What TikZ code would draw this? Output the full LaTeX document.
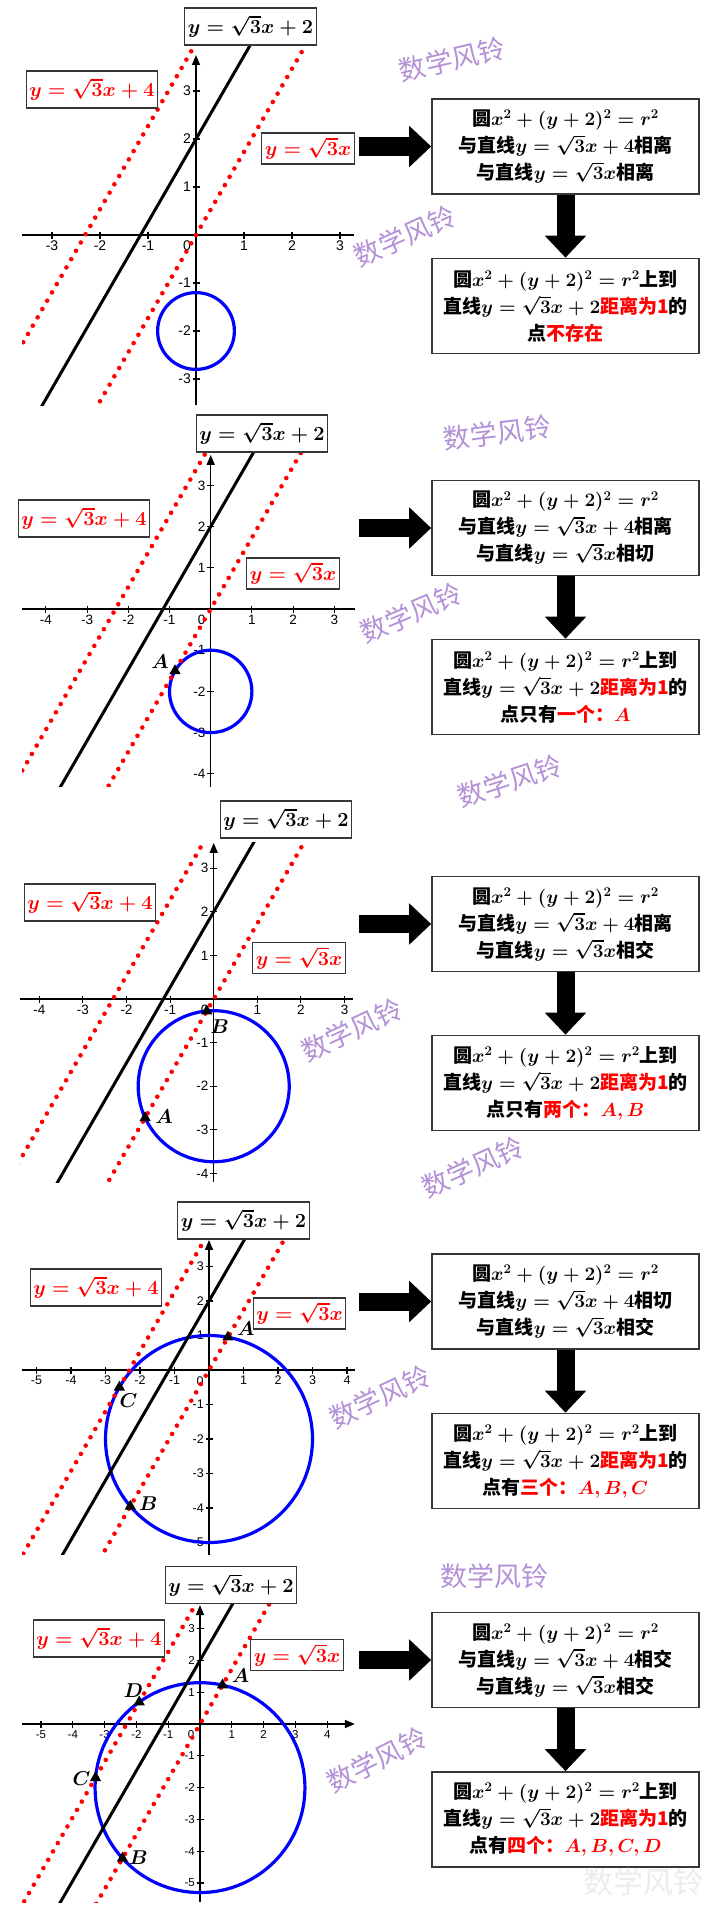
\RequirePackage{fix-cm}
\documentclass[tikz,border=0pt]{standalone}
\usepackage{amsmath}
\usepackage{bm}
\usepackage[no-math]{fontspec}
\newfontfamily\cjk{Noto Sans CJK SC}
\newfontfamily\tickfont{Liberation Sans}
\usetikzlibrary{arrows.meta,shapes.geometric}
\definecolor{wm}{RGB}{180,145,215}
\definecolor{bx}{RGB}{55,55,55}
\definecolor{wmfaint}{RGB}{236,236,236}

\newcommand\myceq{$\bm{x^2+(y+2)^2=r^2}$}
\newcommand\mylfour{$\bm{y=\sqrt{3}x+4}$}
\newcommand\myltwo{$\bm{y=\sqrt{3}x+2}$}
\newcommand\mylzero{$\bm{y=\sqrt{3}x}$}
\newcommand\myred[1]{\textcolor{red}{#1}}

% axes: xmin xmax ymin ytip xt1 xt2 yt1 yt2 fontsize
\newcommand\myaxes[9]{%
  \draw[axisline,xax] (#1,0) -- (#2,0);
  \draw[axisline,-{Triangle[length=10pt,width=8pt]}] (0,#3) -- (0,#4);
  \foreach \i in {#5,...,#6}{%
    \ifnum\i=0\relax\else
      \draw[tickline] ([yshift=-3.5pt]\i,0) -- ([yshift=3.5pt]\i,0);
      \node[tl,font=\tickfont\fontsize{#9}{#9}\selectfont,anchor=north] at ([yshift=-6pt]\i,0) {\i};
    \fi}%
  \foreach \j in {#7,...,#8}{%
    \ifnum\j=0\relax\else
      \draw[tickline] ([xshift=-3.5pt]0,\j) -- ([xshift=3.5pt]0,\j);
      \node[tl,font=\tickfont\fontsize{#9}{#9}\selectfont,anchor=east] at ([xshift=-5pt]0,\j) {\j};
    \fi}%
  \node[tl,font=\tickfont\fontsize{#9}{#9}\selectfont] at ([shift={(-9pt,-11pt)}]0,0) {0};
}
% lines clipped: xmin xmax ymin ytop
\newcommand\mylines[4]{%
  \begin{scope}
    \clip (#1,#3) rectangle (#2,#4);
    \draw[dotline] (-9,{4-9*sqrt(3)}) -- (3,{4+3*sqrt(3)});
    \draw[solidline] (-9,{2-9*sqrt(3)}) -- (3,{2+3*sqrt(3)});
    \draw[dotline] (-9,{-9*sqrt(3)}) -- (5,{5*sqrt(3)});
  \end{scope}}

\tikzset{
  xax/.style={},
  axisline/.style={line width=1.5pt, black},
  tickline/.style={line width=1.1pt, black},
  tl/.style={inner sep=0pt},
  solidline/.style={black, line width=3pt},
  dotline/.style={red, line width=4.6pt, line cap=round, dash pattern=on 0pt off 9.6pt},
  circ/.style={blue, line width=3.2pt},
  pt/.style={regular polygon, regular polygon sides=3, fill=black, inner sep=0pt, minimum size=13pt},
  ptlab/.style={font=\fontsize{20}{20}\selectfont\boldmath, inner sep=0pt},
  eqlab/.style={draw=bx, fill=white, line width=1.3pt, inner sep=3pt, font=\fontsize{20}{24}\selectfont\boldmath, minimum height=37pt},
  eqlabs/.style={eqlab, minimum height=31pt},
  box/.style={draw=bx, fill=white, line width=1.6pt, minimum width=267pt, minimum height=95pt, align=center, inner sep=2pt, font=\cjk\bfseries\fontsize{19}{27}\selectfont\boldmath},
  bigarrow/.style={line width=18pt, -{Triangle[length=22pt,width=40pt]}},
  wmark/.style={text=wm, font=\cjk\fontsize{27}{27}\selectfont, inner sep=0pt},
}

\begin{document}
\begin{tikzpicture}[x=1pt,y=-1pt]
\useasboundingbox (0,0) rectangle (720,1916);
\fill[white] (0,0) rectangle (720,1916);

% ================= Panel 1 =================
\begin{scope}[shift={(196,235)}, x={(48pt,0pt)}, y={(0pt,48pt)}]
  \myaxes{-3.62}{3.3}{-3.55}{3.75}{-3}{3}{-3}{3}{14}
  \draw[circ] (0,-2) circle[radius=0.8];
  \mylines{-3.62}{3.3}{-3.55}{3.92}
\end{scope}
\node[eqlab] (l2a) at (250.5,26.5) {\myltwo};
\node[eqlab, text=red] (l4a) at (92,89.5) {\mylfour};
\node[eqlabs, text=red] (l0a) at (308,148.5) {\mylzero};
\node[box] (b1a) at (565.5,146.5) {圆\myceq\\与直线\mylfour 相离\\与直线\mylzero 相离};
\node[box] (b2a) at (565.5,306) {圆\myceq 上到\\直线\myltwo\myred{距离为1}的\\点\myred{不存在}};
\coordinate (r1) at (359,146.5);
\draw[bigarrow] (r1) -- (b1a.west);
\draw[bigarrow] (b1a.south) -- (b2a.north);

% ================= Panel 2 =================
\begin{scope}[shift={(210.7,609)}, x={(41.2pt,0pt)}, y={(0pt,41.2pt)}]
  \myaxes{-4.58}{3.5}{-4.32}{3.74}{-4}{3}{-4}{3}{13.5}
  \draw[circ] (0,-2) circle[radius=1];
  \mylines{-4.58}{3.5}{-4.32}{3.78}
  \node[pt] (p2a) at ({-sqrt(3)/2},-1.5) {};
\end{scope}
\node[ptlab] at ([shift={(-15pt,9pt)}]p2a.center) {$\bm{A}$};
\node[eqlab] (l2b) at (262,433.5) {\myltwo};
\node[eqlab, text=red] (l4b) at (84,518.5) {\mylfour};
\node[eqlabs, text=red] (l0b) at (293,573.5) {\mylzero};
\node[box] (b1b) at (565.5,528) {圆\myceq\\与直线\mylfour 相离\\与直线\mylzero 相切};
\node[box] (b2b) at (565.5,687) {圆\myceq 上到\\直线\myltwo\myred{距离为1}的\\点只有\myred{一个：$\bm{A}$}};
\coordinate (r2) at (359,528);
\draw[bigarrow] (r2) -- (b1b.west);
\draw[bigarrow] (b1b.south) -- (b2b.north);

% ================= Panel 3 =================
\begin{scope}[shift={(213.7,999)}, x={(43.6pt,0pt)}, y={(0pt,43.6pt)}]
  \myaxes{-4.44}{3.19}{-4.2}{3.58}{-4}{3}{-4}{3}{13.5}
  \draw[circ] (0,-2) circle[radius={sqrt(3)}];
  \mylines{-4.44}{3.19}{-4.2}{3.6}
  \node[pt] (p3b) at ({(-sqrt(3)+sqrt(2))/2},{sqrt(3)*(-sqrt(3)+sqrt(2))/2}) {};
  \node[pt] (p3a) at ({(-sqrt(3)-sqrt(2))/2},{sqrt(3)*(-sqrt(3)-sqrt(2))/2}) {};
\end{scope}
\node[ptlab] at ([shift={(13pt,-16pt)}]p3b.center) {$\bm{B}$};
\node[ptlab] at ([shift={(19pt,1pt)}]p3a.center) {$\bm{A}$};
\node[eqlab] (l2c) at (286,819.5) {\myltwo};
\node[eqlab, text=red] (l4c) at (90,902.5) {\mylfour};
\node[eqlabs, text=red] (l0c) at (299,958) {\mylzero};
\node[box] (b1c) at (565.5,924) {圆\myceq\\与直线\mylfour 相离\\与直线\mylzero 相交};
\node[box] (b2c) at (565.5,1083) {圆\myceq 上到\\直线\myltwo\myred{距离为1}的\\点只有\myred{两个：$\bm{A,B}$}};
\coordinate (r3) at (359,924);
\draw[bigarrow] (r3) -- (b1c.west);
\draw[bigarrow] (b1c.south) -- (b2c.north);

% ================= Panel 4 =================
\begin{scope}[shift={(209,1370)}, x={(34.5pt,0pt)}, y={(0pt,34.5pt)}]
  \myaxes{-5.42}{4.23}{-5.36}{3.77}{-5}{4}{-5}{3}{12.5}
  \draw[circ] (0,-2) circle[radius=3];
  \mylines{-5.42}{4.23}{-5.36}{3.77}
  \node[pt] (p4a) at (0.548,0.950) {};
  \node[pt] (p4c) at (-2.598,-0.5) {};
  \node[pt] (p4b) at (-2.280,-3.950) {};
\end{scope}
\node[ptlab] at ([shift={(18pt,9pt)}]p4a.center) {$\bm{A}$};
\node[ptlab] at ([shift={(9pt,-13pt)}]p4c.center) {$\bm{C}$};
\node[ptlab] at ([shift={(18pt,3pt)}]p4b.center) {$\bm{B}$};
\node[eqlab] (l2d) at (243.5,1220.5) {\myltwo};
\node[eqlab, text=red] (l4d) at (96,1287.5) {\mylfour};
\node[eqlabs, text=red] (l0d) at (299.5,1313.5) {\mylzero};
\node[box] (b1d) at (565.5,1301.5) {圆\myceq\\与直线\mylfour 相切\\与直线\mylzero 相交};
\node[box] (b2d) at (565.5,1461) {圆\myceq 上到\\直线\myltwo\myred{距离为1}的\\点有\myred{三个：$\bm{A,B,C}$}};
\coordinate (r4) at (359,1301.5);
\draw[bigarrow] (r4) -- (b1d.west);
\draw[bigarrow] (b1d.south) -- (b2d.north);

% ================= Panel 5 =================
\begin{scope}[shift={(200,1724)}, x={(31.8pt,0pt)}, y={(0pt,31.8pt)},
  xax/.style={-{Triangle[length=10pt,width=8pt]}}]
  \myaxes{-5.6}{4.87}{-5.6}{3.74}{-5}{4}{-5}{3}{11.5}
  \draw[circ] (0,-2) circle[radius=3.3];
  \mylines{-5.6}{4.87}{-5.6}{3.8}
  \node[pt] (p5a) at (0.7065,1.2237) {};
  \node[pt] (p5d) at (-1.911,0.690) {};
  \node[pt] (p5c) at (-3.286,-1.691) {};
  \node[pt] (p5b) at (-2.438,-4.223) {};
\end{scope}
\node[ptlab] at ([shift={(18pt,9pt)}]p5a.center) {$\bm{A}$};
\node[ptlab] at ([shift={(-6pt,11pt)}]p5d.center) {$\bm{D}$};
\node[ptlab] at ([shift={(-14pt,-1pt)}]p5c.center) {$\bm{C}$};
\node[ptlab] at ([shift={(16pt,1pt)}]p5b.center) {$\bm{B}$};
\node[eqlab] (l2e) at (231,1585) {\myltwo};
\node[eqlab, text=red] (l4e) at (99,1638.5) {\mylfour};
\node[eqlabs, text=red] (l0e) at (297,1655) {\mylzero};
\node[box] (b1e) at (565.5,1660) {圆\myceq\\与直线\mylfour 相交\\与直线\mylzero 相交};
\node[box] (b2e) at (565.5,1819.5) {圆\myceq 上到\\直线\myltwo\myred{距离为1}的\\点有\myred{四个：$\bm{A,B,C,D}$}};
\coordinate (r5) at (359,1660);
\draw[bigarrow] (r5) -- (b1e.west);
\draw[bigarrow] (b1e.south) -- (b2e.north);

% ================= Watermarks =================
\node[wmark, rotate=13] (w1) at (452,59) {数学风铃};
\node[wmark, rotate=24] (w2) at (405,236) {数学风铃};
\node[wmark, rotate=7] (w3) at (497,433) {数学风铃};
\node[wmark, rotate=23] (w4) at (411,613) {数学风铃};
\node[wmark, rotate=18] (w5) at (510,781) {数学风铃};
\node[wmark, rotate=25] (w6) at (352,1030) {数学风铃};
\node[wmark, rotate=24] (w7) at (473,1167) {数学风铃};
\node[wmark, rotate=25] (w8) at (380,1397) {数学风铃};
\node[wmark] (w9) at (494,1576) {数学风铃};
\node[wmark, rotate=27] (w10) at (377,1760) {数学风铃};
\node[wmark, text=wmfaint, font=\cjk\fontsize{30}{30}\selectfont] (w11) at (643,1882) {数学风铃};
\end{tikzpicture}
\end{document}
